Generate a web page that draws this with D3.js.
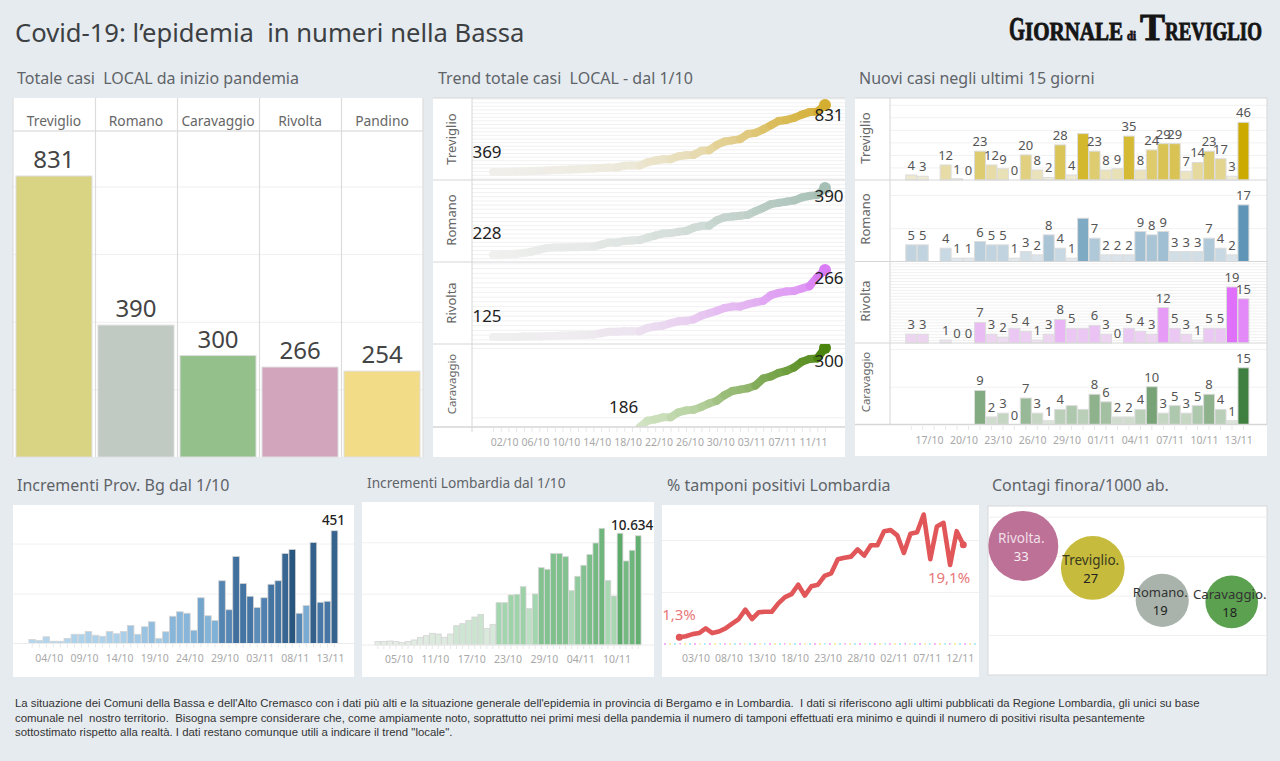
<!DOCTYPE html>
<html>
<head>
<meta charset="utf-8">
<title>Covid-19 Bassa</title>
<script src="https://cdn.jsdelivr.net/npm/d3@7/dist/d3.min.js"></script>
<style>
  html, body { margin: 0; padding: 0; background: #e6ebf0; }
  svg { display: block; }
  text { font-family: "Noto Sans", "Open Sans", sans-serif; white-space: pre; }
  .tick text { fill: #a8a8a8; font-size: 10.5px; font-family: "Noto Sans", "Open Sans", sans-serif; }
</style>
</head>
<body>
<svg id="chart" width="1280" height="761"></svg>
<script>
// totals
var towns = ["Treviglio", "Romano", "Caravaggio", "Rivolta", "Pandino"];
var totals = [831, 390, 300, 266, 254];

// cumulative cases from 1/10 to 13/11
var trendTreviglio = [369, 370, 371, 372, 374, 376, 378, 380, 382, 384, 386, 388, 390, 393, 397, 400, 400, 412, 413, 413, 436, 448, 457, 457, 477, 485, 487, 515, 519, 556, 579, 587, 596, 631, 639, 663, 692, 721, 728, 742, 765, 782, 785, 831];
var trendRomano = [228, 229, 230, 231, 233, 236, 241, 245, 246, 246, 247, 247, 248, 248, 253, 258, 258, 262, 263, 264, 270, 275, 280, 281, 284, 286, 294, 298, 299, 312, 319, 321, 323, 325, 334, 342, 351, 354, 357, 360, 367, 371, 373, 390];
var trendRivolta = [125, 125, 125, 125, 126, 126, 126, 127, 127, 128, 128, 129, 129, 130, 133, 136, 136, 137, 137, 137, 144, 147, 149, 154, 158, 159, 162, 170, 175, 180, 186, 189, 189, 194, 198, 201, 213, 218, 221, 222, 227, 232, 251, 266];
var trendCaravaggio = [186, 195, 197, 200, 200, 207, 210, 211, 215, 220, 224, 232, 238, 240, 242, 246, 256, 259, 264, 267, 272, 280, 284, 285, 300];

// new cases from 15/10 to 13/11, null where the picture has no bar
var newTreviglio = [4, 3, null, 12, 1, 0, 23, 12, 9, 0, 20, 8, 2, 28, 4, 37, 23, 8, 9, 35, 8, 24, 29, 29, 7, 14, 23, 17, 3, 46];
var newRomano = [5, 5, null, 4, 1, 1, 6, 5, 5, 1, 3, 2, 8, 4, 1, 13, 7, 2, 2, 2, 9, 8, 9, 3, 3, 3, 7, 4, 2, 17];
var newRivolta = [3, 3, null, 1, 0, 0, 7, 3, 2, 5, 4, 1, 3, 8, 5, 5, 6, 3, 0, 5, 4, 3, 12, 5, 3, 1, 5, 5, 19, 15];
var newCaravaggio = [null, null, null, null, null, null, 9, 2, 3, 0, 7, 3, 1, 4, 5, 4, 8, 6, 2, 2, 4, 10, 3, 5, 3, 5, 8, 4, 1, 15];
// positions whose label is missing in the reference
var hiddenTreviglio = [15];
var hiddenRomano = [15];
var hiddenRivolta = [15];
var hiddenCaravaggio = [14, 15];

// daily increments 1/10 - 13/11, with the colour measure of each bar (0-1)
var bgValues = [16, 12, 27, 9, 9, 20, 37, 37, 48, 33, 29, 48, 39, 48, 72, 37, 67, 87, 20, 47, 109, 127, 121, 53, 183, 111, 92, 251, 135, 348, 240, 189, 144, 183, 237, 251, 360, 376, 121, 152, 404, 165, 169, 451];
var bgShade = [.05, .05, .06, .05, .05, .06, .08, .08, .1, .08, .08, .1, .09, .1, .18, .15, .2, .25, .15, .2, .3, .3, .3, .32, .42, .32, .35, .6, .58, .75, .72, .7, .55, .62, .72, .72, .85, 1, .58, .38, .9, .68, .7, .88];
var lomValues = [330, 330, 390, 330, 230, 330, 490, 750, 910, 1140, 1070, 750, 1070, 1880, 2080, 2400, 2730, 2990, 1620, 2010, 4120, 4120, 4870, 4930, 5680, 3540, 4970, 7530, 7370, 8900, 8900, 8600, 5290, 6690, 7760, 8800, 9930, 11360, 6270, 4770, 10880, 8180, 9220, 10634];
var lomShade = [.05, .05, .05, .05, .05, .05, .06, .08, .08, .1, .1, .08, .1, .2, .2, .2, .22, .22, .12, .15, .45, .45, .48, .48, .5, .3, .45, .7, .7, .72, .72, .7, .4, .6, .7, .75, .8, .85, .42, .42, 1, .8, .85, .95];

// positive swabs %, 1/10 - 13/11
var pctValues = [1.3, 1.5, 1.9, 2.1, 3.0, 2.1, 2.4, 3.0, 3.9, 4.8, 6.6, 4.8, 6.1, 6.2, 6.2, 7.8, 9.0, 9.6, 11.4, 9.3, 11.1, 11.4, 13.1, 13.6, 16.3, 16.6, 16.8, 18.2, 17.0, 19.0, 19.0, 21.7, 21.9, 20.9, 17.5, 21.2, 21.5, 24.9, 16.3, 22.6, 23.3, 15.2, 21.7, 19.1];

// contagi / 1000 ab.
var bubbleTowns = ["Rivolta", "Treviglio", "Romano", "Caravaggio"];
var bubbleValues = [32.6, 27.0, 18.8, 18.4];

var footerLines = [
  "La situazione dei Comuni della Bassa e dell'Alto Cremasco con i dati più alti e la situazione generale dell'epidemia in provincia di Bergamo e in Lombardia.  I dati si riferiscono agli ultimi pubblicati da Regione Lombardia, gli unici su base",
  "comunale nel  nostro territorio.  Bisogna sempre considerare che, come ampiamente noto, soprattutto nei primi mesi della pandemia il numero di tamponi effettuati era minimo e quindi il numero di positivi risulta pesantemente",
  "sottostimato rispetto alla realtà. I dati restano comunque utili a indicare il trend \"locale\"."
];

var days = d3.timeDay.range(new Date(2020, 9, 1), new Date(2020, 10, 14));
var lastDays = days.slice(14);
var fmtDay = d3.timeFormat("%d/%m");

var svg = d3.select("#chart");

function label(parent, x, y, txt, size, color, anchor) {
  return parent.append("text").attr("x", x).attr("y", y).attr("font-size", size)
    .attr("fill", color).attr("text-anchor", anchor || "start").text(txt);
}

function panel(x, y, w, h) {
  svg.append("rect").attr("x", x).attr("y", y).attr("width", w).attr("height", h).attr("fill", "#fff");
}

// horizontal grid through an axis with no labels
function grid(y, ticks, x1, x2, color) {
  var g = svg.append("g").attr("transform", "translate(" + x1 + ",0)")
    .call(d3.axisLeft(y).tickValues(ticks).tickSize(x1 - x2).tickFormat(""));
  g.select(".domain").remove();
  g.selectAll("line").attr("stroke", color || "#f0f0f0");
  return g;
}

// day ticks and date labels below a time or band scale
function dateAxis(x, allDays, labelDays, y, dx, tickColor) {
  var t = svg.append("g").attr("transform", "translate(0," + y + ")")
    .call(d3.axisBottom(x).tickValues(allDays).tickSize(4).tickFormat(""));
  t.select(".domain").remove();
  t.selectAll("line").attr("stroke", tickColor || "#e8e8e8");
  var l = svg.append("g").attr("transform", "translate(" + dx + "," + y + ")")
    .call(d3.axisBottom(x).tickValues(labelDays).tickSize(0).tickPadding(11).tickFormat(fmtDay));
  l.select(".domain").remove();
}

function everyNth(list, first, n) {
  return list.filter(function (d, i) { return i >= first && (i - first) % n === 0; });
}

// ---- headers
label(svg, 15, 42, "Covid-19: l’epidemia  in numeri nella Bassa", 25.6, "#3c4043");
label(svg, 17, 84, "Totale casi  LOCAL da inizio pandemia", 16, "#5f6468");
label(svg, 438, 84, "Trend totale casi  LOCAL - dal 1/10", 16, "#5f6468");
label(svg, 859, 84, "Nuovi casi negli ultimi 15 giorni", 16, "#5f6468");
label(svg, 17, 491, "Incrementi Prov. Bg dal 1/10", 16, "#5f6468");
label(svg, 367, 488, "Incrementi Lombardia dal 1/10", 13.7, "#5f6468");
label(svg, 667, 491, "% tamponi positivi Lombardia", 16, "#5f6468");
label(svg, 992, 491, "Contagi finora/1000 ab.", 16, "#5f6468");

// ---- logo, each piece squeezed to its width
var logoParts = [
  { t: "G", x: 1009, w: 16, s: 34 },
  { t: "IORNALE", x: 1025, w: 98, s: 25 },
  { t: "di", x: 1127, w: 9, s: 13 },
  { t: "T", x: 1140, w: 25, s: 37 },
  { t: "REVIGLIO", x: 1165, w: 97, s: 25 }
];
logoParts.forEach(function (p) {
  var t = svg.append("text").attr("font-size", p.s)
    .style("font-family", "'Liberation Serif', serif").attr("font-weight", "bold")
    .attr("fill", "#151515").attr("stroke", "#151515").attr("stroke-width", 0.9).text(p.t);
  var len = t.node().getComputedTextLength();
  t.attr("transform", "translate(" + p.x + ",40) scale(" + (p.w / len) + ",1)");
});

// ---- totals
panel(13, 98, 410, 359);
var xTot = d3.scaleBand().domain(towns).range([13, 423]).paddingInner(0.073).paddingOuter(0.036);
var yTot = d3.scaleLinear().domain([0, 831]).range([457, 176]);
var totColors = ["#d9d384", "#c0c9c2", "#93c08b", "#d2a5bc", "#f2dc87"];
grid(yTot, [200, 400, 600, 800], 13, 423, "#efefef");
svg.append("line").attr("x1", 13).attr("x2", 423).attr("y1", 131).attr("y2", 131).attr("stroke", "#e2e2e2").attr("stroke-width", 1.5);
[13, 95.5, 177.5, 259.5, 341.5, 423].forEach(function (x) {
  svg.append("line").attr("x1", x).attr("x2", x).attr("y1", 98).attr("y2", 457).attr("stroke", "#dcdcdc").attr("stroke-width", 1.2);
});
svg.selectAll(".totbar").data(totals).enter().append("rect").attr("class", "totbar")
  .attr("x", function (d, i) { return xTot(towns[i]); })
  .attr("y", function (d) { return yTot(d); })
  .attr("width", xTot.bandwidth())
  .attr("height", function (d) { return yTot(0) - yTot(d); })
  .attr("fill", function (d, i) { return totColors[i]; })
  .attr("stroke", "#dedede");
totals.forEach(function (d, i) {
  var cx = xTot(towns[i]) + xTot.bandwidth() / 2;
  label(svg, cx, yTot(d) - 8, d, 24, "#444", "middle");
  label(svg, cx, 126, towns[i], 13.8, "#666", "middle");
});

// ---- trend lines
panel(433, 98, 412, 359);
var xTrend = d3.scaleTime().domain([days[0], days[43]]).range([493, 825]);
var trendRows = [
  { name: "Treviglio", values: trendTreviglio, start: days[0], top: 98, bottom: 180, yLow: 172, yHigh: 105, from: "#f0efeb", to: "#d4ae30", step: 25, labelY: 139, firstDy: -14, lastDy: 16, nameSize: 13 },
  { name: "Romano", values: trendRomano, start: days[0], top: 180, bottom: 262, yLow: 255, yHigh: 188, from: "#f0f0ef", to: "#a5bfb5", step: 10, labelY: 220, firstDy: -16, lastDy: 14, nameSize: 13 },
  { name: "Rivolta", values: trendRivolta, start: days[0], top: 262, bottom: 344, yLow: 337, yHigh: 270, from: "#efefef", to: "#d97cf5", step: 10, labelY: 303, firstDy: -15, lastDy: 14, nameSize: 13 },
  { name: "Caravaggio", values: trendCaravaggio, start: days[19], top: 344, bottom: 427, yLow: 427, yHigh: 348, from: "#dcebd2", to: "#4b850f", step: 100, labelY: 384, firstDy: -14, lastDy: 19, nameSize: 11.4 }
];
trendRows.forEach(function (row, r) {
  var lo = row.values[0], hi = row.values[row.values.length - 1];
  var y = d3.scaleLinear().domain([lo, hi]).range([row.yLow, row.yHigh]);
  var color = d3.scaleLinear().domain([lo, hi]).range([row.from, row.to]);
  var first = Math.ceil(y.invert(row.bottom) / row.step) * row.step;
  grid(y, d3.range(first, y.invert(row.top), row.step), 472, 845, "#f1f1f1");
  svg.append("clipPath").attr("id", "clip" + r).append("rect")
    .attr("x", 472).attr("y", row.top).attr("width", 373).attr("height", row.bottom - row.top);
  var offset = days.findIndex(function (d) { return +d === +row.start; });
  var pts = row.values.map(function (v, i) { return { x: xTrend(days[offset + i]), y: y(v), v: v }; });
  var line = d3.line().x(function (d) { return d.x; }).y(function (d) { return d.y; });
  var g = svg.append("g").attr("clip-path", "url(#clip" + r + ")");
  g.selectAll("path").data(d3.pairs(pts)).enter().append("path")
    .attr("d", function (d) { return line(d); })
    .attr("fill", "none").attr("stroke-width", 8).attr("stroke-linecap", "round")
    .attr("stroke", function (d) { return color(d[1].v); });
  var end = pts[pts.length - 1];
  g.append("circle").attr("cx", end.x).attr("cy", end.y).attr("r", 6).attr("fill", row.to);
  var firstX = r === 3 ? pts[0].x - 16 : 487;
  label(svg, firstX, pts[0].y + row.firstDy, lo, 17, "#222", "middle");
  label(svg, 829, end.y + row.lastDy, hi, 17, "#222", "middle");
  label(svg, 0, 0, row.name, row.nameSize, "#666", "middle")
    .attr("transform", "translate(456," + row.labelY + ") rotate(-90)");
  svg.append("line").attr("x1", 433).attr("x2", 845).attr("y1", row.bottom).attr("y2", row.bottom)
    .attr("stroke", "#d6d6d6").attr("stroke-width", r === 3 ? 1.5 : 1);
});
svg.append("line").attr("x1", 472).attr("x2", 472).attr("y1", 98).attr("y2", 432).attr("stroke", "#d6d6d6");
svg.append("line").attr("x1", 433).attr("x2", 845).attr("y1", 98).attr("y2", 98).attr("stroke", "#d6d6d6");
dateAxis(xTrend, days, everyNth(days, 1, 4), 428, 3.4);

// ---- new cases
panel(855, 98, 412, 358);
var xNew = d3.scaleBand().domain(lastDays).range([905.3, 1249.4]).padding(0.04);
var newRows = [
  { name: "Treviglio", values: newTreviglio, hidden: hiddenTreviglio, top: 98, base: 180, unit: 1.254, from: "#f0eee2", to: "#ccaa00", step: 10, labelY: 138, nameSize: 13 },
  { name: "Romano", values: newRomano, hidden: hiddenRomano, top: 180, base: 261.5, unit: 3.33, from: "#e9edf0", to: "#5f96b7", step: 10, labelY: 219, nameSize: 13 },
  { name: "Rivolta", values: newRivolta, hidden: hiddenRivolta, top: 261.5, base: 343, unit: 2.95, from: "#efe8f0", to: "#e070fa", step: 1, labelY: 301, nameSize: 13 },
  { name: "Caravaggio", values: newCaravaggio, hidden: hiddenCaravaggio, top: 343, base: 424.5, unit: 3.78, from: "#e6ece4", to: "#3f7f3f", step: 10, labelY: 382, nameSize: 11.4 }
];
newRows.forEach(function (row, r) {
  var top = d3.max(row.values);
  var y = d3.scaleLinear().domain([0, top]).range([row.base, row.base - top * row.unit]);
  var color = d3.scaleLinear().domain([0, top]).range([row.from, row.to]);
  grid(y, d3.range(row.step, (row.base - row.top) / row.unit, row.step), 890, 1267, "#f1f1f1");
  var pts = row.values.map(function (v, i) { return { v: v, day: lastDays[i], i: i }; })
    .filter(function (d) { return d.v !== null; });
  svg.append("g").selectAll("rect").data(pts).enter().append("rect")
    .attr("x", function (d) { return xNew(d.day); })
    .attr("y", function (d) { return y(d.v); })
    .attr("width", xNew.bandwidth())
    .attr("height", function (d) { return y(0) - y(d.v); })
    .attr("fill", function (d) { return color(d.v); })
    .attr("stroke", "#dcdcdc");
  pts.forEach(function (d) {
    if (row.hidden.indexOf(d.i) >= 0) return;
    label(svg, xNew(d.day) + xNew.bandwidth() / 2, y(d.v) - 5, d.v, 13, "#555", "middle");
  });
  label(svg, 0, 0, row.name, row.nameSize, "#666", "middle")
    .attr("transform", "translate(870," + row.labelY + ") rotate(-90)");
  svg.append("line").attr("x1", 855).attr("x2", 1267).attr("y1", row.base).attr("y2", row.base)
    .attr("stroke", "#d6d6d6").attr("stroke-width", r === 3 ? 1.5 : 1);
});
svg.append("line").attr("x1", 890).attr("x2", 890).attr("y1", 98).attr("y2", 424).attr("stroke", "#d6d6d6");
svg.append("line").attr("x1", 855).attr("x2", 1267).attr("y1", 98).attr("y2", 98).attr("stroke", "#d6d6d6");
svg.append("line").attr("x1", 1267).attr("x2", 1267).attr("y1", 98).attr("y2", 424).attr("stroke", "#d6d6d6");
dateAxis(xNew, lastDays, everyNth(lastDays, 2, 3), 426, -4.6);

// ---- increments
function increments(opts) {
  panel(opts.px, opts.py, opts.pw, opts.ph);
  var x = d3.scaleBand().domain(days).range(opts.range).padding(0.06);
  var y = d3.scaleLinear().domain([0, opts.gridTop]).range([opts.base, opts.base - opts.gridTop * opts.unit]);
  var color = d3.scaleLinear().domain(opts.stops).range(opts.colors);
  grid(y, opts.ticks, opts.px, opts.px + opts.pw, "#f0f0f0");
  svg.append("g").selectAll("rect").data(opts.values).enter().append("rect")
    .attr("x", function (d, i) { return x(days[i]); })
    .attr("y", function (d) { return y(d); })
    .attr("width", x.bandwidth())
    .attr("height", function (d) { return y(0) - y(d); })
    .attr("fill", function (d, i) { return color(opts.shade[i]); })
    .attr("stroke", "#d4d4d4").attr("stroke-width", 0.8);
  var last = opts.values[opts.values.length - 1];
  label(svg, x(days[43]) + x.bandwidth() / 2 - opts.labelDx, y(last) - 6, opts.labelText, opts.labelSize, "#222", "middle")
    .attr("font-weight", 500);
  svg.append("line").attr("x1", opts.px).attr("x2", opts.px + opts.pw).attr("y1", opts.base).attr("y2", opts.base).attr("stroke", "#ececec");
  dateAxis(x, days, everyNth(days, opts.tickFirst, opts.tickEvery), opts.base, opts.labelShift);
}
increments({
  px: 13, py: 505, pw: 341, ph: 172, range: [28.5, 338.2], base: 643.5, unit: 0.25, gridTop: 451,
  values: bgValues, shade: bgShade, ticks: [200, 400], stops: [0, 0.35, 0.65, 1],
  colors: ["#bcdcf0", "#7fb0d6", "#4b7bab", "#29567f"], labelText: "451", labelDx: 1, labelSize: 13.5,
  tickFirst: 3, tickEvery: 5, labelShift: -4
});
increments({
  px: 362, py: 502, pw: 292, ph: 175, range: [374.6, 641.4], base: 645, unit: 0.01027, gridTop: 11360,
  values: lomValues, shade: lomShade, ticks: [5000, 10000], stops: [0, 0.2, 0.45, 1],
  colors: ["#e9efe9", "#cfe5d3", "#a3d5ae", "#5cab6b"], labelText: "10.634", labelDx: 6, labelSize: 13.5,
  tickFirst: 4, tickEvery: 6, labelShift: -3
});

// ---- positive swabs
panel(662, 505, 317, 172);
var xPct = d3.scaleTime().domain([days[0], days[43]]).range([679.3, 963.3]);
var yPct = d3.scaleLinear().domain([0, 20]).range([644, 540]);
grid(yPct, [10, 20], 662, 979, "#f0f0f0");
// the thin speckled base line of the reference
[["#f03cf0", 0], ["#32d8f0", 5], ["#f0d832", 10]].forEach(function (c) {
  svg.append("line").attr("x1", 664).attr("x2", 979).attr("y1", 644).attr("y2", 644)
    .attr("stroke", c[0]).attr("stroke-dasharray", "2 13").attr("stroke-dashoffset", c[1]).attr("opacity", 0.8);
});
svg.append("path").datum(pctValues)
  .attr("d", d3.line().x(function (d, i) { return xPct(days[i]); }).y(function (d) { return yPct(d); }))
  .attr("fill", "none").attr("stroke", "#e15759").attr("stroke-width", 4.6).attr("stroke-linejoin", "round").attr("stroke-linecap", "round");
svg.append("circle").attr("cx", xPct(days[0])).attr("cy", yPct(pctValues[0])).attr("r", 3.5).attr("fill", "#e15759");
svg.append("circle").attr("cx", xPct(days[43])).attr("cy", yPct(pctValues[43])).attr("r", 3.5).attr("fill", "#e15759");
label(svg, 679, 620, "1,3%", 15, "#e8777a", "middle");
label(svg, 949, 583, "19,1%", 15, "#e8777a", "middle");
dateAxis(xPct, days, everyNth(days, 2, 5), 644, 3, "#fff");

// ---- bubbles
panel(988, 506, 279, 169);
svg.append("rect").attr("x", 988).attr("y", 506).attr("width", 279).attr("height", 169).attr("fill", "none").attr("stroke", "#d8d8d8");
var xBub = d3.scalePoint().domain(bubbleTowns).range([1023.3, 1231.7]);
var yBub = d3.scaleLinear().domain([10, 40]).range([635, 516.7]);
var rBub = d3.scaleSqrt().domain([0, 32.6]).range([0, 35]);
var bubColors = ["#bd7196", "#c6bb3c", "#a9b3ab", "#5ba14f"];
var bubText = ["#f0dfe8", "#3a3a20", "#333", "#333"];
var bubNum = ["#f7eef3", "#222", "#222", "#222"];
var bubSize = [13.5, 13.5, 13, 13.2];
grid(yBub, [10, 20, 30, 40], 988, 1267, "#f0f0f0");
bubbleValues.forEach(function (v, i) {
  var name = bubbleTowns[i], cx = xBub(name), cy = yBub(v);
  svg.append("circle").attr("cx", cx).attr("cy", cy).attr("r", rBub(v)).attr("fill", bubColors[i]);
  label(svg, cx - 2, cy - 3, name + ".", bubSize[i], bubText[i], "middle");
  label(svg, cx - 2, cy + 15, d3.format(".0f")(v), 13, bubNum[i], "middle");
});

// ---- footer
footerLines.forEach(function (t, i) {
  svg.append("text").attr("x", 15).attr("y", 707 + i * 14.5).attr("font-size", 11.4).attr("fill", "#333")
    .style("font-family", "'Liberation Sans', sans-serif").text(t);
});
</script>
</body>
</html>
